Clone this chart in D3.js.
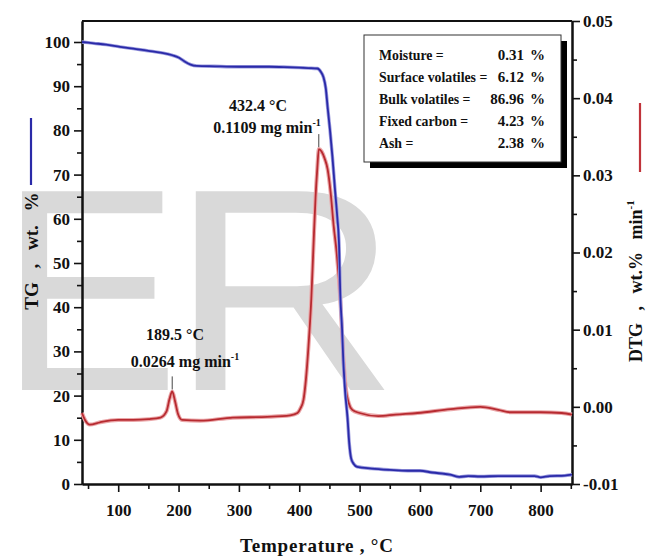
<!DOCTYPE html>
<html>
<head>
<meta charset="utf-8">
<script src="https://cdn.jsdelivr.net/npm/d3@7"></script>
<style>
  html, body { margin: 0; padding: 0; background: #fff; }
  svg { display: block; }
  .serif { font-family: "Liberation Serif", "Times New Roman", serif; font-weight: bold; fill: #111; }
  .axis text { font-family: "Liberation Serif", "Times New Roman", serif; font-weight: bold; font-size: 17px; fill: #111; }
  .axis line { stroke: #111; stroke-width: 1.6; }
  .axis path { stroke: #111; stroke-width: 2; }
</style>
</head>
<body>
<svg id="chart" width="647" height="556"></svg>
<script>
// Thermogravimetric curve (TG, wt.%) against temperature (°C)
const tgTemps = [40, 60, 80, 103, 130, 150, 170, 190, 200, 210, 220, 230, 260, 300, 350, 380, 400, 415, 430, 436, 440, 444, 447, 451, 455, 459, 463, 466, 468, 471, 473, 476, 480, 483, 486, 490, 496, 520, 550, 580, 600, 620, 650, 665, 680, 700, 730, 760, 790, 800, 815, 840, 852];
const tgValues = [100, 99.7, 99.4, 98.9, 98.4, 98.0, 97.6, 97.0, 96.5, 95.6, 94.9, 94.6, 94.5, 94.4, 94.4, 94.3, 94.2, 94.1, 94.0, 93.2, 92.1, 89.5, 85.3, 80.0, 74.0, 67.0, 60.4, 54.0, 43.0, 35.0, 28.0, 21.0, 15.0, 9.0, 5.8, 4.6, 3.9, 3.5, 3.2, 3.0, 3.0, 2.6, 2.1, 1.6, 1.8, 1.7, 1.8, 1.8, 1.8, 1.5, 1.8, 1.9, 2.1];

// Derivative curve (DTG, wt.% min⁻¹) against temperature (°C)
const dtgTemps = [40, 45, 53, 70, 100, 125, 150, 170, 180, 185, 189.5, 194, 199, 206, 236, 290, 347, 385, 397, 402, 407, 411, 415, 420, 423.4, 427, 430, 432.4, 437, 442, 447, 452, 457, 462, 468, 473, 477, 482, 488, 500, 531, 560, 596, 651, 700, 730, 750, 800, 835, 852];
const dtgValues = [-0.0008, -0.0017, -0.0023, -0.0020, -0.0017, -0.0017, -0.0016, -0.0014, -0.0006, 0.0010, 0.0020, 0.0008, -0.0009, -0.0017, -0.0018, -0.0014, -0.0013, -0.0011, -0.0008, -0.0002, 0.0009, 0.0035, 0.0075, 0.0140, 0.0205, 0.0271, 0.0310, 0.0334, 0.0331, 0.0322, 0.0308, 0.0278, 0.0235, 0.0200, 0.0140, 0.0065, 0.0025, 0.0005, -0.0004, -0.0008, -0.0012, -0.0010, -0.0008, -0.0003, 0.0000, -0.0004, -0.0007, -0.0007, -0.0008, -0.0010];

// Axis ticks
const xTicks = [100, 200, 300, 400, 500, 600, 700, 800];
const xMinorTicks = [50, 150, 250, 350, 450, 550, 650, 750, 850];
const tgTicks = [0, 10, 20, 30, 40, 50, 60, 70, 80, 90, 100];
const tgMinorTicks = [5, 15, 25, 35, 45, 55, 65, 75, 85, 95];
const dtgTicks = [-0.01, 0.00, 0.01, 0.02, 0.03, 0.04, 0.05];
const dtgMinorTicks = [-0.005, 0.005, 0.015, 0.025, 0.035, 0.045];

// Proximate analysis
const compLabels = ["Moisture =", "Surface volatiles =", "Bulk volatiles =", "Fixed carbon =", "Ash ="];
const compValues = ["0.31", "6.12", "86.96", "4.23", "2.38"];

// DTG peaks
const peakTemps = [189.5, 432.4];
const peakTempLabels = ["189.5 °C", "432.4 °C"];
const peakRateLabels = ["0.0264 mg min", "0.1109 mg min"];

const svg = d3.select("#chart");
const plot = { left: 82, right: 572, top: 21, bottom: 484 };

const x = d3.scaleLinear().domain([40, 852]).range([plot.left, plot.right]);
const yTG = d3.scaleLinear().domain([0, 104.75]).range([plot.bottom, plot.top]);
const yDTG = d3.scaleLinear().domain([-0.01, 0.05]).range([plot.bottom, plot.top]);

// Watermark letters
const wm = svg.append("g")
  .attr("font-family", "'Liberation Sans', Arial, sans-serif")
  .attr("font-size", 289)
  .attr("fill", "#d9d9d9");
wm.append("text").attr("transform", "translate(0,390) scale(0.93,1)").attr("x", 0).attr("y", 0).text("E");
wm.append("text").attr("transform", "translate(195,390) scale(1.1,1)").attr("x", -23).attr("y", 0).text("R");

// Axes
const fmtTG = d => String(d);
const fmtDTG = d => d.toFixed(2);

svg.append("g").attr("class", "axis")
  .attr("transform", `translate(0,${plot.bottom})`)
  .call(d3.axisBottom(x).tickValues(xMinorTicks).tickSize(5).tickSizeOuter(0).tickFormat(""));
svg.append("g").attr("class", "axis")
  .attr("transform", `translate(0,${plot.bottom})`)
  .call(d3.axisBottom(x).tickValues(xTicks).tickSize(8).tickSizeOuter(0).tickPadding(12));

svg.append("g").attr("class", "axis")
  .attr("transform", `translate(${plot.left},0)`)
  .call(d3.axisLeft(yTG).tickValues(tgMinorTicks).tickSize(5).tickSizeOuter(0).tickFormat(""));
svg.append("g").attr("class", "axis")
  .attr("transform", `translate(${plot.left},0)`)
  .call(d3.axisLeft(yTG).tickValues(tgTicks).tickSize(8).tickSizeOuter(0).tickPadding(4).tickFormat(fmtTG));

svg.append("g").attr("class", "axis")
  .attr("transform", `translate(${plot.right},0)`)
  .call(d3.axisRight(yDTG).tickValues(dtgMinorTicks).tickSize(5).tickSizeOuter(0).tickFormat(""));
svg.append("g").attr("class", "axis")
  .attr("transform", `translate(${plot.right},0)`)
  .call(d3.axisRight(yDTG).tickValues(dtgTicks).tickSize(8).tickSizeOuter(0).tickPadding(3).tickFormat(fmtDTG));

// top frame
svg.append("line")
  .attr("x1", plot.left).attr("x2", plot.right)
  .attr("y1", plot.top).attr("y2", plot.top)
  .attr("stroke", "#111").attr("stroke-width", 2);

// Curves
const tgLine = d3.line()
  .x((d, i) => x(tgTemps[i]))
  .y(d => yTG(d))
  .curve(d3.curveMonotoneX);
const dtgLine = d3.line()
  .x((d, i) => x(dtgTemps[i]))
  .y(d => yDTG(d))
  .curve(d3.curveMonotoneX);

svg.append("path").datum(dtgValues).attr("d", dtgLine)
  .attr("fill", "none").attr("stroke", "#eaa6a8").attr("stroke-width", 4).attr("stroke-linejoin", "round");
svg.append("path").datum(dtgValues).attr("d", dtgLine)
  .attr("fill", "none").attr("stroke", "#b72a30").attr("stroke-width", 1.8).attr("stroke-linejoin", "round");

svg.append("path").datum(tgValues).attr("d", tgLine)
  .attr("fill", "none").attr("stroke", "#9a9ade").attr("stroke-width", 3.4).attr("stroke-linejoin", "round");
svg.append("path").datum(tgValues).attr("d", tgLine)
  .attr("fill", "none").attr("stroke", "#2a2aa8").attr("stroke-width", 1.8).attr("stroke-linejoin", "round");

// Peak annotations
const annotPos = [
  { x1: 175, y1: 340, x2: 185, y2: 367 },
  { x1: 258, y1: 111, x2: 267, y2: 133 }
];
peakTemps.forEach((t, i) => {
  const k = dtgTemps.indexOf(t);
  const px = x(t), py = yDTG(dtgValues[k]);
  svg.append("line")
    .attr("x1", px).attr("x2", px)
    .attr("y1", py - 2).attr("y2", py - 15)
    .attr("stroke", "#444").attr("stroke-width", 1);
  const p = annotPos[i];
  svg.append("text").attr("class", "serif")
    .attr("x", p.x1).attr("y", p.y1)
    .attr("text-anchor", "middle").attr("font-size", 16)
    .text(peakTempLabels[i]);
  const t2 = svg.append("text").attr("class", "serif")
    .attr("x", p.x2).attr("y", p.y2)
    .attr("text-anchor", "middle").attr("font-size", 16);
  t2.append("tspan").text(peakRateLabels[i]);
  t2.append("tspan").attr("font-size", 10).attr("dy", -7).text("-1");
});

// Composition box
svg.append("rect").attr("x", 370).attr("y", 41).attr("width", 197).attr("height", 127).attr("fill", "#000");
svg.append("rect").attr("x", 364).attr("y", 35).attr("width", 197).attr("height", 127)
  .attr("fill", "#fff").attr("stroke", "#333").attr("stroke-width", 1);
compLabels.forEach((lab, i) => {
  const yy = 60 + i * 22;
  const lt = svg.append("text").attr("class", "serif").attr("font-size", 15)
    .attr("x", 379).attr("y", yy).text(lab);
  const w = lt.node().getComputedTextLength();
  lt.attr("textLength", w * 0.92).attr("lengthAdjust", "spacingAndGlyphs");
  svg.append("text").attr("class", "serif").attr("font-size", 15)
    .attr("x", 524).attr("y", yy).attr("text-anchor", "end").text(compValues[i]);
  svg.append("text").attr("class", "serif").attr("font-size", 15)
    .attr("x", 530).attr("y", yy).text("%");
});

// Axis titles
svg.append("text").attr("class", "serif")
  .attr("x", 316.5).attr("y", 552)
  .attr("text-anchor", "middle").attr("font-size", 19)
  .attr("textLength", 153).attr("lengthAdjust", "spacing")
  .text("Temperature , °C");

svg.append("line").attr("x1", 31).attr("x2", 31).attr("y1", 118).attr("y2", 185)
  .attr("stroke", "#2a2aa8").attr("stroke-width", 2.2);
svg.append("text").attr("class", "serif")
  .attr("transform", "translate(38,251) rotate(-90)")
  .attr("text-anchor", "middle").attr("font-size", 19)
  .attr("word-spacing", 9)
  .text("TG , wt. %");

svg.append("line").attr("x1", 640).attr("x2", 640).attr("y1", 103).attr("y2", 172)
  .attr("stroke", "#c0333a").attr("stroke-width", 2.2);
const dtgTitle = svg.append("text").attr("class", "serif")
  .attr("transform", "translate(642,362) rotate(-90)")
  .attr("font-size", 18)
  .attr("word-spacing", 8);
dtgTitle.append("tspan").text("DTG , wt.% min");
dtgTitle.append("tspan").attr("font-size", 11).attr("dy", -8).text("-1");
</script>
</body>
</html>
